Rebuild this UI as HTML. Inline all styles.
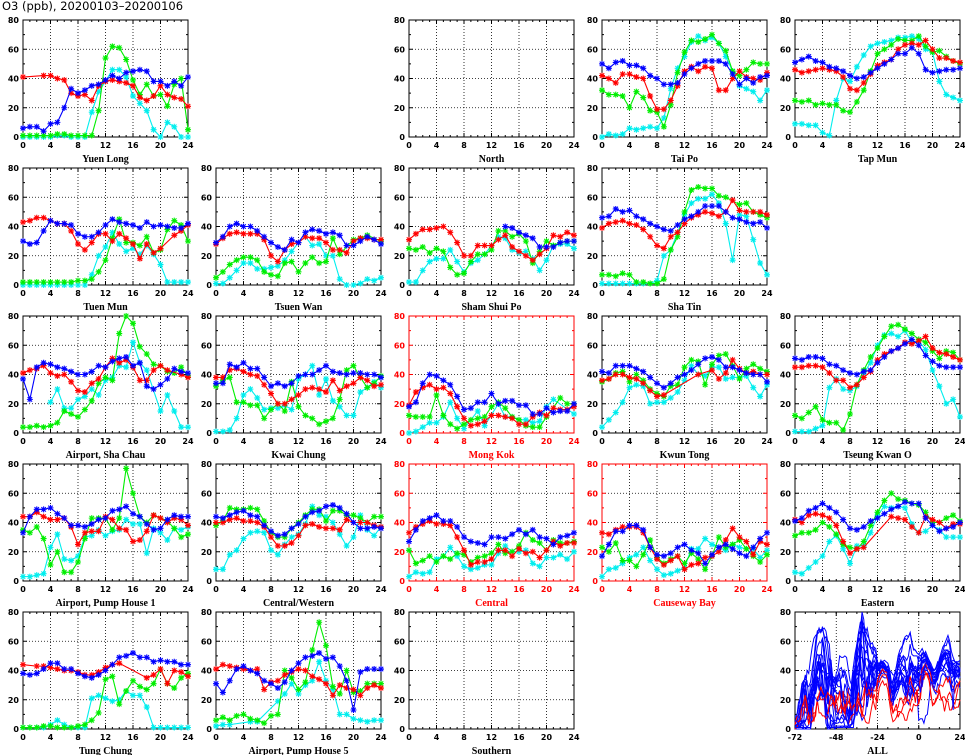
<!DOCTYPE html>
<html><head><meta charset="utf-8">
<style>
html,body{margin:0;padding:0;background:#fff;}
svg{display:block;}
</style></head>
<body>
<svg id="chart" width="965" height="755" xmlns="http://www.w3.org/2000/svg" font-family="DejaVu Sans, Liberation Sans, sans-serif">
<text x="2" y="10" font-size="11.5">O3 (ppb), 20200103–20200106</text>
</svg>
<script>
const N=null;
const hours=[0,1,2,3,4,5,6,7,8,9,10,11,12,13,14,15,16,17,18,19,20,21,22,23,24];
const xTicks=[0,4,8,12,16,20,24];
const yTicks=[0,20,40,60,80];
const allTicks=[-72,-48,-24,0,24];
const seriesColors=["#0000ff","#ff0000","#00ee00","#00eeee"];
const stationNames=["Yuen Long","North","Tai Po","Tap Mun","Tuen Mun","Tsuen Wan","Sham Shui Po","Sha Tin","Airport, Sha Chau","Kwai Chung","Mong Kok","Kwun Tong","Tseung Kwan O","Airport, Pump House 1","Central/Western","Central","Causeway Bay","Eastern","Tung Chung","Airport, Pump House 5","Southern"];
const stationRow=[0,0,0,0,1,1,1,1,2,2,2,2,2,3,3,3,3,3,4,4,4];
const stationCol=[0,2,3,4,0,1,2,3,0,1,2,3,4,0,1,2,3,4,0,1,2];
const roadside=[false,false,false,false,false,false,false,false,false,false,true,false,false,false,false,true,true,false,false,false,false];
const blueVals=[
[6,7,7,4,9,10,20,33,30,32,35,36,39,42,40,44,45,46,45,38,38,35,38,35,41],
[],
[50,47,51,52,49,49,47,42,40,36,36,37,43,47,50,52,52,52,50,43,36,40,37,41,42],
[51,53,55,52,51,48,47,45,42,40,41,44,47,50,53,57,57,61,57,46,44,45,46,46,47],
[30,28,29,37,44,42,42,41,35,33,33,36,41,45,43,42,41,39,43,40,41,40,39,39,42],
[29,33,40,42,40,40,37,33,29,26,24,31,29,36,38,37,35,36,34,27,27,30,33,31,28],
[N,N,N,N,N,N,N,N,N,N,N,N,N,N,40,39,36,34,32,26,26,26,29,30,30],
[46,47,52,50,51,47,45,42,40,38,37,41,45,47,50,54,54,54,50,46,45,43,42,43,39],
[37,23,45,48,47,45,44,42,40,40,42,46,45,49,51,52,46,48,32,30,33,37,44,42,41],
[34,34,47,45,48,44,44,38,32,34,32,34,39,40,40,43,46,42,41,40,41,41,40,40,38],
[18,21,34,40,39,36,33,25,16,17,21,21,27,20,22,22,19,19,13,13,17,14,15,15,20],
[42,41,46,46,46,44,42,38,34,31,34,38,40,43,47,51,52,50,45,45,43,41,40,40,35],
[51,50,52,52,51,47,46,43,41,40,42,43,48,52,56,58,61,64,60,53,49,46,45,45,45],
[33,44,49,49,50,46,43,38,38,37,39,42,43,48,49,51,46,44,39,35,36,42,45,44,44],
[44,43,45,47,48,45,44,38,34,31,32,36,39,44,47,48,51,52,50,46,40,36,36,37,36],
[27,35,41,43,45,41,41,37,30,27,26,25,30,30,29,32,35,32,35,30,29,25,30,31,33],
[17,25,34,34,38,38,35,23,18,17,19,23,25,21,19,12,18,23,25,22,19,17,23,29,33],
[41,43,48,50,53,50,47,42,36,35,37,41,43,46,49,51,54,53,53,43,38,34,36,37,40],
[38,37,38,41,45,45,41,41,38,36,35,37,40,44,49,50,52,49,49,46,47,46,46,44,44],
[31,25,33,41,43,40,38,33,31,28,32,40,45,49,50,52,48,49,43,33,13,39,41,41,41],
[]];
const redVals=[
[41,N,N,42,42,40,39,30,28,29,25,35,38,39,38,37,35,27,25,28,35,29,27,26,21],
[],
[42,40,37,43,43,41,40,28,19,19,25,35,45,48,45,48,47,32,32,40,45,41,40,39,44],
[46,44,45,46,47,46,45,41,33,32,37,43,49,51,53,60,63,64,63,66,60,54,54,52,51],
[43,44,46,46,44,42,42,37,28,24,29,35,35,30,35,32,28,18,28,22,25,N,34,37,41],
[28,32,35,36,35,35,35,31,20,16,24,28,29,33,32,32,29,24,24,22,30,32,32,31,31],
[31,35,38,38,39,40,36,29,20,20,27,27,27,31,34,26,23,20,17,21,25,34,33,36,34],
[39,42,43,44,42,41,38,33,27,25,33,36,42,46,48,50,49,47,50,58,51,50,50,50,48],
[41,43,44,46,41,39,40,35,29,28,34,37,45,51,48,50,45,36,36,43,46,43,N,40,38],
[38,38,43,44,42,40,39,33,27,20,20,23,26,30,31,30,28,36,29,32,34,38,36,32,33],
[19,28,31,33,30,31,27,18,10,5,6,8,12,12,11,10,6,6,11,14,12,17,16,16,18],
[36,37,40,40,38,37,34,29,25,26,N,N,N,N,40,N,43,37,41,50,44,41,42,40,40],
[45,45,46,46,45,41,36,36,31,33,38,42,50,54,56,58,62,61,63,66,58,55,54,52,50],
[44,44,47,44,42,42,43,37,25,33,34,34,44,42,36,35,27,28,34,45,43,40,43,42,38],
[40,40,42,43,41,41,40,37,30,24,24,26,31,38,39,37,36,36,35,42,40,40,40,38,37],
[33,37,39,41,39,39,38,30,21,11,13,13,15,21,21,17,22,19,20,16,21,27,24,26,26],
[33,32,35,37,37,37,33,23,15,11,14,17,8,11,12,16,17,20,28,36,30,27,18,27,25],
[42,40,45,46,45,43,38,27,19,22,23,N,N,N,44,43,42,37,33,44,42,40,36,39,39],
[44,N,43,43,42,41,40,40,39,37,37,39,42,44,45,N,N,N,35,37,41,31,40,39,36],
[41,44,43,42,41,40,41,27,32,33,37,39,41,40,36,34,31,23,30,28,27,23,28,30,28],
[]];
const greenVals=[
[1,1,1,1,1,2,2,1,1,1,1,18,54,62,61,53,39,29,36,28,29,21,36,40,5],
[],
[32,29,29,28,20,31,27,18,17,7,22,44,58,66,65,67,70,64,59,45,42,46,51,50,50],
[25,24,25,22,23,22,22,18,17,24,32,45,57,60,63,67,66,66,69,62,58,59,55,52,50],
[2,2,2,2,2,2,2,2,3,3,4,9,17,32,45,29,29,27,33,22,24,38,44,41,30],
[5,9,14,17,19,19,17,9,7,6,15,16,9,15,19,15,16,32,21,N,31,32,34,N,30],
[25,24,26,22,25,23,12,7,8,16,21,21,24,37,37,33,35,30,15,23,30,27,29,30,30],
[7,7,6,8,7,2,2,1,1,4,24,33,50,65,67,66,66,61,60,N,55,56,50,48,46],
[4,4,5,4,5,7,15,13,11,16,22,34,38,36,68,80,75,59,54,47,46,42,41,45,39],
[32,36,38,21,21,19,19,10,16,20,15,35,18,12,10,6,8,10,23,43,46,38,31,34,39],
[12,11,11,11,26,12,6,3,6,9,10,11,18,21,17,11,9,5,4,4,11,N,24,20,20],
[35,37,41,42,35,40,36,30,27,25,32,33,45,50,49,33,47,53,54,46,37,44,47,44,42],
[12,10,14,18,9,7,7,2,13,33,43,52,58,66,73,74,71,68,64,62,56,51,56,55,50],
[35,33,37,29,11,20,6,6,13,29,43,43,43,35,43,77,60,44,40,45,43,41,36,30,32],
[38,41,50,49,49,50,49,41,33,30,30,36,40,45,49,49,41,48,48,45,45,43,40,44,44],
[21,12,14,17,13,17,15,19,18,13,16,17,19,25,19,20,24,33,28,26,21,28,26,26,27],
[23,20,26,14,14,10,18,28,16,12,15,17,12,19,15,8,17,30,23,25,28,22,17,13,18],
[31,33,33,35,40,37,32,25,23,22,27,38,47,55,60,56,55,53,52,47,40,40,43,45,41],
[1,1,1,2,2,1,1,1,2,3,6,11,34,36,17,26,33,29,27,31,41,31,28,35,38],
[6,8,6,9,10,7,6,4,9,10,40,35,27,32,54,73,57,29,24,40,25,26,31,31,31],
[]];
const cyanVals=[
[0,0,0,0,0,1,1,0,0,0,17,31,38,46,46,41,28,23,18,5,0,10,7,0,0],
[],
[0,2,1,2,6,5,6,7,6,13,33,47,55,65,69,66,68,64,55,45,35,33,31,25,32],
[9,9,8,8,3,1,25,40,38,48,56,62,64,65,66,68,68,69,67,60,58,38,29,27,25],
[0,0,0,0,0,0,0,0,0,0,7,20,26,36,28,23,25,21,27,21,14,2,2,2,2],
[1,1,5,10,15,15,11,11,12,13,17,23,29,33,27,28,20,20,4,0,0,1,4,3,5],
[2,2,10,16,18,18,24,16,9,15,17,21,27,33,32,24,22,23,18,10,17,27,28,28,25],
[1,1,1,1,1,1,1,1,3,20,24,36,48,56,59,59,62,56,42,17,48,47,31,15,7],
[N,N,N,N,21,30,17,17,23,25,30,26,36,38,46,45,62,48,43,N,15,26,15,4,4],
[1,1,2,10,26,30,24,16,17,17,19,16,37,40,46,26,37,22,18,12,12,28,31,35,31],
[0,1,4,7,7,11,21,10,3,N,15,5,N,20,11,11,9,9,7,8,18,23,N,N,13],
[4,9,14,21,31,33,32,20,21,21,24,28,36,46,40,39,45,45,37,38,38,39,31,25,33],
[1,1,1,3,5,31,37,30,29,32,41,48,60,67,68,66,70,62,63,57,43,32,20,23,11],
[3,3,4,5,23,32,15,14,17,30,31,35,31,34,35,42,39,39,19,36,33,28,36,35,37],
[8,8,18,21,29,33,34,33,21,18,25,30,32,39,51,45,44,40,32,24,30,45,35,31,37],
[3,6,5,6,15,17,23,17,10,8,9,11,11,19,24,20,20,21,12,10,16,16,18,15,20],
[3,8,9,12,16,18,23,14,8,4,5,7,9,22,22,29,25,23,21,25,23,22,22,16,21],
[6,5,9,13,17,27,31,22,12,24,24,33,45,51,50,51,50,39,33,34,38,35,30,30,30],
[1,1,1,1,3,6,3,1,1,1,21,23,21,19,20,26,23,23,15,1,1,1,1,1,1],
[2,3,3,N,N,5,5,N,N,19,24,31,24,30,33,46,33,27,10,10,7,6,5,6,6],
[]];

const NS="http://www.w3.org/2000/svg";
const svg=document.getElementById('chart');
const colX=[23,216,409,602,795], rowY=[20,168,316,464,612], PW=165, PH=117;
function mk(tag,attrs,parent){const e=document.createElementNS(NS,tag);for(const k in attrs)e.setAttribute(k,attrs[k]);(parent||svg).appendChild(e);return e;}

function drawAxes(g,x0,y0,xmin,xmax,xt,xminor,col,label){
  const sx=v=>x0+(v-xmin)/(xmax-xmin)*PW;
  const sy=v=>y0+PH-(v/80)*PH;
  xt.slice(1,-1).forEach(v=>{const l=mk('line',{x1:sx(v),x2:sx(v),y1:y0,y2:y0+PH,stroke:'#000','stroke-width':0.8,'stroke-dasharray':'1,2'},g);
    });
  yTicks.slice(1,-1).forEach(v=>{const l=mk('line',{x1:x0,x2:x0+PW,y1:sy(v),y2:sy(v),stroke:'#000','stroke-width':0.8,'stroke-dasharray':'1,2'},g);
    });
  for(let v=xmin;v<=xmax;v+=xminor){const X=sx(v);mk('line',{x1:X,x2:X,y1:y0,y2:y0+2,stroke:col,'stroke-width':1},g);mk('line',{x1:X,x2:X,y1:y0+PH,y2:y0+PH-2,stroke:col,'stroke-width':1},g);}
  for(let v=0;v<=80;v+=10){const Y=sy(v);const L=(v%20==0)?4:2;mk('line',{x1:x0,x2:x0+L,y1:Y,y2:Y,stroke:col,'stroke-width':1},g);mk('line',{x1:x0+PW,x2:x0+PW-L,y1:Y,y2:Y,stroke:col,'stroke-width':1},g);}
  xt.forEach(v=>{const X=sx(v);mk('line',{x1:X,x2:X,y1:y0,y2:y0+4,stroke:col},g);mk('line',{x1:X,x2:X,y1:y0+PH,y2:y0+PH-4,stroke:col},g);
    const t=mk('text',{x:X,y:y0+PH+11,'font-size':8,'font-weight':'bold','text-anchor':'middle',fill:col},g);t.textContent=v;
    });
  yTicks.forEach(v=>{const t=mk('text',{x:x0-4,y:sy(v)+3,'font-size':8,'font-weight':'bold','text-anchor':'end',fill:col},g);t.textContent=v;
    });
  const b=mk('rect',{x:x0,y:y0,width:PW,height:PH,fill:'none',stroke:col,'stroke-width':1},g);
  
  const t=mk('text',{x:x0+PW/2,y:y0+PH+25,'font-size':10,'font-weight':'bold','text-anchor':'middle',fill:col,style:'font-family:"Liberation Serif",serif'},g);t.textContent=label;
  
  return {sx,sy};
}
function marker(g,X,Y,c){
  const r=3;
  mk('path',{d:`M${X-r} ${Y}H${X+r}M${X} ${Y-r}V${Y+r}M${X-r*0.75} ${Y-r*0.75}L${X+r*0.75} ${Y+r*0.75}M${X-r*0.75} ${Y+r*0.75}L${X+r*0.75} ${Y-r*0.75}`,stroke:c,'stroke-width':1.1,fill:'none'},g);
}
const seriesSets=[blueVals,redVals,greenVals,cyanVals];
const seriesNames=['blue','red','green','cyan'];
stationNames.forEach((name,i)=>{
  const g=mk('g',{});
  
  
  const col=roadside[i]?'#ff0000':'#000';
  const {sx,sy}=drawAxes(g,colX[stationCol[i]],rowY[stationRow[i]],0,24,xTicks,1,col,name);
  [3,2,1,0].forEach(s=>{
    const vals=seriesSets[s][i];if(!vals||!vals.length)return;
    const sg=mk('g',{},g);
    
    
    const pts=[];vals.forEach((v,h)=>{if(v!==null)pts.push([sx(hours[h]),sy(v)]);});
    mk('polyline',{points:pts.map(p=>p.join(',')).join(' '),fill:'none',stroke:seriesColors[s],'stroke-width':1.1},sg);
    pts.forEach(p=>marker(sg,p[0],p[1],seriesColors[s]));
  });
});
(function(){
  const g=mk('g',{});
  
  
  const {sx,sy}=drawAxes(g,colX[4],rowY[4],-72,24,allTicks,6,'#000','ALL');
  stationNames.forEach((n,i)=>{
    if(!blueVals[i].length)return;
    const days=[cyanVals[i],greenVals[i],redVals[i],blueVals[i]];
    const pts=[];
    days.forEach((d,di)=>d.forEach((v,h)=>{if(h==24&&di<3)return;if(v!==null)pts.push([sx(-72+di*24+h),sy(v)]);}));
    const l=mk('polyline',{points:pts.map(p=>p.join(',')).join(' '),fill:'none',stroke:roadside[i]?'#ff0000':'#0000ff','stroke-width':1},g);
    
    
  });
})();
</script>
</body></html>
